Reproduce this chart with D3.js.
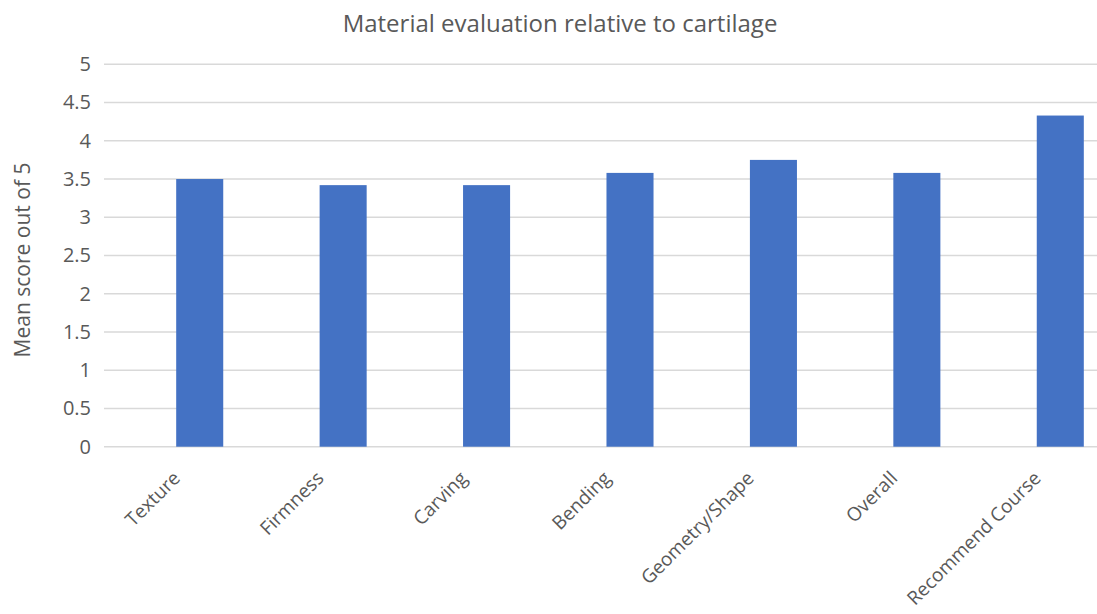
<!DOCTYPE html>
<html>
<head>
<meta charset="utf-8">
<script src="https://cdn.jsdelivr.net/npm/d3@7"></script>
<style>
  body { margin: 0; background: #fff; }
  text { font-family: "Open Sans", sans-serif; fill: #595959; }
</style>
</head>
<body>
<div id="chart"></div>
<script>
// Chart data
const categories = ['Texture', 'Firmness', 'Carving', 'Bending', 'Geometry/Shape', 'Overall', 'Recommend Course'];
const scores = [3.5, 3.42, 3.42, 3.58, 3.75, 3.58, 4.33];
const yTicks = [0, 0.5, 1, 1.5, 2, 2.5, 3, 3.5, 4, 4.5, 5];

const width = 1097;
const height = 614;

const svg = d3.select("#chart").append("svg")
    .attr("width", width)
    .attr("height", height);

// plot area runs past the right edge (the original is cropped)
const x = d3.scaleBand()
    .domain(categories)
    .range([128, 1132])
    .paddingInner(0.672)
    .paddingOuter(0.336);

const y = d3.scaleLinear()
    .domain([0, 5])
    .range([446.7, 64.3]);

// Gridlines
svg.append("g")
    .selectAll("line")
    .data(yTicks)
    .enter().append("line")
    .attr("x1", 104)
    .attr("x2", width)
    .attr("y1", d => y(d))
    .attr("y2", d => y(d))
    .style("stroke", "#d9d9d9")
    .style("stroke-width", 1.5);

// Bars
svg.append("g")
    .selectAll("rect")
    .data(scores)
    .enter().append("rect")
    .attr("x", (d, i) => x(categories[i]))
    .attr("y", d => y(d))
    .attr("width", x.bandwidth())
    .attr("height", d => y(0) - y(d))
    .style("fill", "#4472c4");

// Y axis (labels only)
const yAxis = svg.append("g")
    .attr("transform", "translate(91,0)")
    .call(d3.axisLeft(y).tickValues(yTicks).tickSize(0).tickPadding(0).tickFormat(d3.format("")));
yAxis.select(".domain").remove();
yAxis.selectAll("text")
    .style("font-size", "20px")
    .style("font-family", "'Open Sans', sans-serif")
    .attr("fill", "#595959");

// X axis labels, rotated
const xAxis = svg.append("g")
    .attr("transform", `translate(0,${y(0)})`)
    .call(d3.axisBottom(x).tickSize(0).tickPadding(0));
xAxis.select(".domain").remove();
xAxis.selectAll("text")
    .style("font-size", "19px")
    .style("font-family", "'Open Sans', sans-serif")
    .attr("fill", "#595959")
    .attr("text-anchor", "end")
    .attr("dy", "0.35em")
    .attr("transform", "translate(-23,28) rotate(-45)");

// Title
svg.append("text")
    .attr("x", 560)
    .attr("y", 32)
    .attr("text-anchor", "middle")
    .style("font-size", "24px")
    .text("Material evaluation relative to cartilage");

// Y axis title
svg.append("text")
    .attr("transform", "translate(30,260) rotate(-90)")
    .attr("text-anchor", "middle")
    .style("font-size", "21px")
    .text("Mean score out of 5");
</script>
</body>
</html>
